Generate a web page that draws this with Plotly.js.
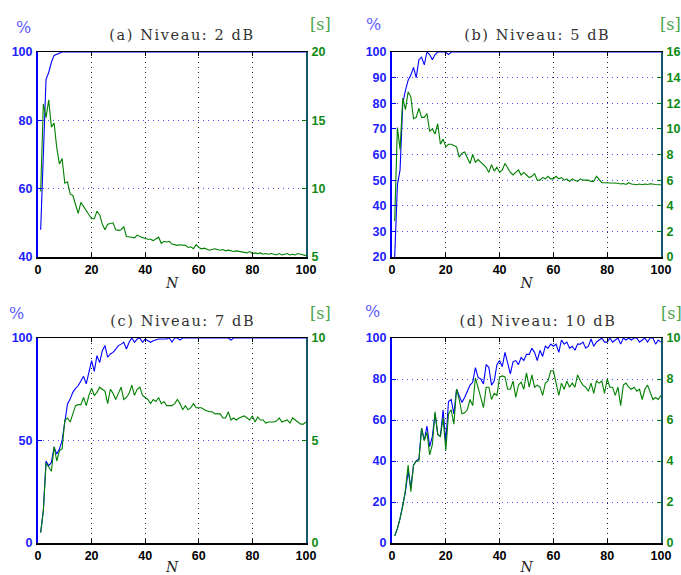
<!DOCTYPE html>
<html>
<head>
<meta charset="utf-8">
<script src="https://cdn.plot.ly/plotly-3.0.1.min.js"></script>
<style>
html,body{margin:0;padding:0;background:#fff;}
#chart{width:681px;height:575px;}
</style>
</head>
<body>
<div id="chart"></div>
<script>
// N index (x values)
const N = [1,2,3,4,5,6,7,8,9,10,11,12,13,14,15,16,17,18,19,20,21,22,23,24,25,26,27,28,29,30,
31,32,33,34,35,36,37,38,39,40,41,42,43,44,45,46,47,48,49,50,51,52,53,54,55,56,57,58,59,60,
61,62,63,64,65,66,67,68,69,70,71,72,73,74,75,76,77,78,79,80,81,82,83,84,85,86,87,88,89,90,
91,92,93,94,95,96,97,98,99,100];

const titles = ['(a) Niveau: 2 dB', '(b) Niveau: 5 dB', '(c) Niveau: 7 dB', '(d) Niveau: 10 dB'];

// (a) 2 dB
const pctA = [48,72,92,94,97,99,99.3,99.6,100,100,
100,100,100,100,100,100,100,100,100,100,
100,100,100,100,100,100,100,100,100,100,
100,100,100,100,100,100,100,100,100,100,
100,100,100,100,100,100,100,100,100,100,
100,100,100,100,100,100,100,100,100,100,
100,100,100,100,100,100,100,100,100,100,
100,100,100,100,100,100,100,100,100,100,
100,100,100,100,100,100,100,100,100,100,
100,100,100,100,100,100,100,100,100,100];
const secA = [9.8,16.2,15.2,16.5,14.5,14.8,13.0,11.8,12.2,10.4,
10.5,9.6,9.5,8.9,8.2,9.0,8.7,8.4,8.1,7.8,
7.8,8.35,8.1,7.4,7.0,7.4,7.45,7.5,7.0,6.95,
7.0,7.2,6.5,6.5,6.45,6.4,6.6,6.5,6.4,6.35,
6.3,6.3,6.2,6.3,6.45,6.0,6.15,6.1,6.15,5.95,
5.9,5.85,5.9,5.9,5.85,5.7,5.75,5.6,5.9,5.7,
5.6,5.65,5.6,5.5,5.55,5.6,5.55,5.5,5.55,5.45,
5.5,5.45,5.4,5.45,5.4,5.4,5.35,5.3,5.4,5.25,
5.3,5.25,5.3,5.2,5.25,5.2,5.25,5.2,5.15,5.25,
5.15,5.2,5.25,5.15,5.2,5.15,5.25,5.2,5.15,5.1];

// (b) 5 dB
const pctB = [20,48,54,80,85,89,91,94,90,97,
98,95,100,99,97,99,100,100,100,100,
99,100,100,100,100,100,100,100,100,100,
100,100,100,100,100,100,100,100,100,100,
100,100,100,100,100,100,100,100,100,100,
100,100,100,100,100,100,100,100,100,100,
100,100,100,100,100,100,100,100,100,100,
100,100,100,100,100,100,100,100,100,100,
100,100,100,100,100,100,100,100,100,100,
100,100,100,100,100,100,100,100,100,100];
const secB = [2.8,10.1,8.4,12.4,11.5,12.9,12.5,10.8,10.9,11.6,
10.9,10.9,11.2,9.8,10.0,9.6,10.4,8.8,9.2,8.6,
8.8,8.8,8.7,8.6,7.8,8.1,8.2,7.8,7.3,8.0,
7.4,7.6,7.4,7.2,7.0,6.6,7.2,6.7,7.0,6.6,
6.8,7.3,6.9,6.6,6.4,6.6,6.8,6.4,6.6,6.4,
6.2,6.3,6.5,6.0,6.0,6.2,6.1,6.3,6.1,6.1,
6.3,6.1,6.2,6.0,6.1,5.9,6.1,6.0,5.9,6.1,
6.0,6.0,6.0,5.9,5.9,6.3,6.0,5.8,5.8,5.8,
5.76,5.8,5.75,5.76,5.7,5.74,5.66,5.8,5.7,5.64,
5.64,5.7,5.64,5.7,5.66,5.72,5.66,5.66,5.64,5.64];

// (c) 7 dB
const pctC = [5.2,15.8,40,37.7,39.3,46.7,43.4,45.8,50,58,
67.8,70.2,73.5,75.4,76.7,79,81.3,77.6,83.3,89,
83.7,91.4,88,93.8,96.3,90.6,92.2,93,94.6,96.3,
97,97.9,94.6,97.9,100,97.9,99.5,100,97.9,99.5,
98.7,97.9,98.7,99.2,99.5,99.5,99.5,99.5,100,98,
100,100,99,100,100,100,100,100,100,100,
100,100,100,100,100,100,100,100,100,100,
100,99,100,100,100,100,100,100,100,100,
100,100,100,100,100,100,100,100,100,100,
100,100,100,100,100,100,100,100,100,100];
const secC = [0.5,1.6,3.9,3.7,3.5,4.7,4.0,4.5,4.6,6.0,
6.1,5.9,6.3,6.7,6.75,6.75,7.1,6.7,7.2,7.55,
7.2,7.35,7.6,7.5,7.4,6.8,7.5,7.3,7.0,7.3,
7.6,7.0,7.1,7.3,7.7,7.2,7.5,7.6,7.2,7.1,
7.0,6.8,7.0,6.9,7.1,6.8,6.9,6.7,6.7,6.7,
6.8,7.0,6.8,6.5,6.7,6.5,6.6,6.8,6.6,6.6,
6.6,6.5,6.45,6.4,6.4,6.3,6.3,6.3,6.1,6.1,
6.4,6.0,6.1,6.0,6.1,6.15,6.2,6.1,6.0,6.2,
5.9,6.15,6.0,6.0,5.85,5.9,5.9,5.9,5.95,6.1,
5.9,5.95,6.0,5.85,6.1,6.0,5.9,5.8,5.8,5.9];

// (d) 10 dB
const pctD = [3.5,7,12,18,25,35,27,38,40,41,
56,50,57,47,52,63,53,52,65,49,
69,70,63,75,72,68.6,71,74,77,78.4,
85.5,80.8,80,77.6,87,85.7,77,79,87,89,
86,93,88,82.5,88.5,89,87,90.5,89,92,
92,95,93,89,94,91,96,95,97,96,
97,93,99,97,98,95,96,94,97,97,
98,95,96,99.5,96,98,99,100,98,98,
100,98,99,100,97,100,99,100,99,100,
100,98,99,100,98,100,100,97,99,98];
const secD = [0.35,0.7,1.2,1.8,2.6,3.8,2.5,3.8,4.0,4.0,
5.6,5.0,5.4,4.3,4.8,6.4,5.3,5.2,6.1,4.5,
6.3,6.5,5.8,7.5,7.0,6.3,6.35,6.5,7.0,6.7,
8.05,7.5,7.1,6.6,7.6,7.6,7.0,7.3,7.2,8.1,
8.15,8.1,7.5,7.5,7.9,7.1,7.7,7.85,7.5,8.3,
7.6,8.2,7.6,7.7,7.6,7.2,7.8,7.9,8.4,8.4,
7.8,7.2,7.8,7.5,7.9,7.6,7.8,7.6,8.2,7.9,
7.7,7.6,7.4,7.8,7.3,7.9,7.8,7.9,7.3,8.0,
7.6,7.6,7.2,7.6,6.7,7.7,7.8,7.6,7.5,7.6,
7.4,7.5,7.0,7.5,7.7,7.3,7.0,7.1,7.0,7.2];

const pctSeries = [pctA, pctB, pctC, pctD];
const secSeries = [secA, secB, secC, secD];
const leftRanges = [[40,100],[20,100],[0,100],[0,100]];
const leftDtick = [20,10,50,20];
const rightRanges = [[5,20],[0,16],[0,10],[0,10]];
const rightDtick = [5,2,5,2];

// ---- layout geometry (pixels) ----
const W = 681, H = 575;
const boxes = [
  {l:38, r:306, t:52, b:257},
  {l:392, r:661, t:52, b:257},
  {l:38, r:306, t:338, b:543},
  {l:392, r:661, t:338, b:543}
];
const titlePos = [[182,35],[537,35],[182,321],[538,321]];
const pctPos = [[23,27],[373,24],[16,313],[372,311]];
const sPos = [[320,25],[670,25],[320,313],[671,313]];

const BLUE = '#0000ff', GREEN = '#008000';
const tickFont = {family:'Liberation Sans, Arial, sans-serif', size:12.5, weight: 'bold'};

const data = [];
const layout = {
  width: W, height: H,
  margin: {l:0, r:0, t:0, b:0},
  paper_bgcolor: '#fff', plot_bgcolor: '#fff',
  showlegend: false,
  annotations: []
};

boxes.forEach((bx, i) => {
  const xa = i === 0 ? 'x' : 'x' + (i + 1);
  const yl = 2 * i + 1 === 1 ? 'y' : 'y' + (2 * i + 1);
  const yr = 'y' + (2 * i + 2);
  const xKey = i === 0 ? 'xaxis' : 'xaxis' + (i + 1);
  const ylKey = 2 * i + 1 === 1 ? 'yaxis' : 'yaxis' + (2 * i + 1);
  const yrKey = 'yaxis' + (2 * i + 2);
  const xdom = [bx.l / W, bx.r / W];
  const ydom = [1 - bx.b / H, 1 - bx.t / H];

  data.push({x: N, y: pctSeries[i], xaxis: xa, yaxis: yl, type: 'scatter', mode: 'lines',
             line: {color: BLUE, width: 1.1}, hoverinfo: 'skip'});
  data.push({x: N, y: secSeries[i], xaxis: xa, yaxis: yr, type: 'scatter', mode: 'lines',
             line: {color: GREEN, width: 1.1}, hoverinfo: 'skip'});

  layout[xKey] = {
    domain: xdom, anchor: yl, range: [0,100], dtick: 20, tick0: 0,
    showline: true, linecolor: '#000', linewidth: 1.5, mirror: 'ticks',
    ticks: 'inside', ticklen: 4, tickcolor: '#000',
    showgrid: true, gridcolor: '#222', griddash: '1px,4px', gridwidth: 1,
    zeroline: false, tickfont: Object.assign({color:'#000'}, tickFont),
    title: {text: 'N', font: {family: 'DejaVu Serif, serif', size: 14, style: 'italic', color: '#222'}, standoff: 2},
    fixedrange: true
  };
  layout[ylKey] = {
    domain: ydom, anchor: xa, range: leftRanges[i], dtick: leftDtick[i], tick0: 0,
    showline: true, linecolor: BLUE, linewidth: 2,
    ticks: 'inside', ticklen: 4, tickcolor: BLUE,
    showgrid: true, gridcolor: '#4d4dff', griddash: '1px,4px', gridwidth: 1,
    zeroline: false, tickfont: Object.assign({color:'#2020ff'}, tickFont),
    ticklabelstandoff: 1, fixedrange: true
  };
  layout[yrKey] = {
    overlaying: yl, side: 'right', anchor: xa, range: rightRanges[i], dtick: rightDtick[i], tick0: 0,
    showline: true, linecolor: '#14566a', linewidth: 2,
    ticks: 'inside', ticklen: 4, tickcolor: GREEN,
    showgrid: false, zeroline: false,
    tickfont: Object.assign({color:'#108a10'}, tickFont),
    ticklabelstandoff: 1, fixedrange: true
  };

  layout.annotations.push({
    text: titles[i], xref: 'paper', yref: 'paper',
    x: titlePos[i][0] / W, y: 1 - titlePos[i][1] / H, xanchor: 'center', yanchor: 'middle',
    showarrow: false, font: {family: 'DejaVu Serif, serif', size: 14.5, color: '#333'}
  });
  layout.annotations.push({
    text: '%', xref: 'paper', yref: 'paper',
    x: pctPos[i][0] / W, y: 1 - pctPos[i][1] / H, xanchor: 'center', yanchor: 'middle',
    showarrow: false, font: {family: 'DejaVu Serif, serif', size: 16, color: '#5a5aff'}
  });
  layout.annotations.push({
    text: '[s]', xref: 'paper', yref: 'paper',
    x: sPos[i][0] / W, y: 1 - sPos[i][1] / H, xanchor: 'center', yanchor: 'middle',
    showarrow: false, font: {family: 'DejaVu Serif, serif', size: 16, color: '#4ea64e'}
  });
});

Plotly.newPlot('chart', data, layout, {staticPlot: true, displayModeBar: false}).then(() => {
  // widen the panel titles (letter-spaced like the original)
  document.querySelectorAll('.annotation-text').forEach(el => {
    if (el.textContent.indexOf('Niveau') >= 0) {
      el.style.letterSpacing = '1.6px';
    }
  });
});
</script>
</body>
</html>
